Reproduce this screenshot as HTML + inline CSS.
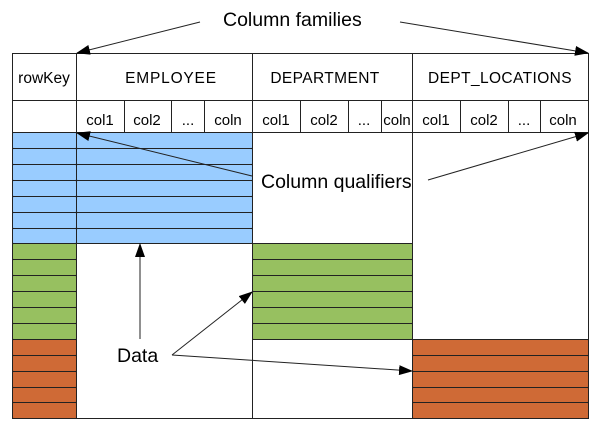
<!DOCTYPE html>
<html><head><meta charset="utf-8"><style>
html,body{margin:0;padding:0;background:#fff;width:602px;height:432px;overflow:hidden}
svg{display:block}
text{font-family:"Liberation Sans",Arial,sans-serif;fill:#000}
</style></head><body>
<svg width="602" height="432" viewBox="0 0 602 432" xmlns="http://www.w3.org/2000/svg">
<defs>
<marker id="ah" markerWidth="14" markerHeight="10" refX="13" refY="5" orient="auto" markerUnits="userSpaceOnUse">
<path d="M0,0 L14,5 L0,10 z" fill="#000"/></marker>
</defs>
<g stroke="#222" stroke-width="1">
<g fill="#99ccff">
<rect x="12.5" y="132.5" width="64" height="16" rx="1"/><rect x="12.5" y="148.5" width="64" height="16" rx="1"/><rect x="12.5" y="164.5" width="64" height="16" rx="1"/><rect x="12.5" y="180.5" width="64" height="16" rx="1"/><rect x="12.5" y="196.5" width="64" height="16" rx="1"/><rect x="12.5" y="212.5" width="64" height="16" rx="1"/><rect x="12.5" y="228.5" width="64" height="15" rx="1"/>
<rect x="76.5" y="132.5" width="176" height="16" rx="1"/><rect x="76.5" y="148.5" width="176" height="16" rx="1"/><rect x="76.5" y="164.5" width="176" height="16" rx="1"/><rect x="76.5" y="180.5" width="176" height="16" rx="1"/><rect x="76.5" y="196.5" width="176" height="16" rx="1"/><rect x="76.5" y="212.5" width="176" height="16" rx="1"/><rect x="76.5" y="228.5" width="176" height="15" rx="1"/>
</g>
<g fill="#97c060">
<rect x="12.5" y="243.5" width="64" height="16" rx="1"/><rect x="12.5" y="259.5" width="64" height="16" rx="1"/><rect x="12.5" y="275.5" width="64" height="16" rx="1"/><rect x="12.5" y="291.5" width="64" height="16" rx="1"/><rect x="12.5" y="307.5" width="64" height="16" rx="1"/><rect x="12.5" y="323.5" width="64" height="16" rx="1"/>
<rect x="252.5" y="243.5" width="160" height="16" rx="1"/><rect x="252.5" y="259.5" width="160" height="16" rx="1"/><rect x="252.5" y="275.5" width="160" height="16" rx="1"/><rect x="252.5" y="291.5" width="160" height="16" rx="1"/><rect x="252.5" y="307.5" width="160" height="16" rx="1"/><rect x="252.5" y="323.5" width="160" height="16" rx="1"/>
</g>
<g fill="#cf6a36">
<rect x="12.5" y="339.5" width="64" height="16" rx="1"/><rect x="12.5" y="355.5" width="64" height="16" rx="1"/><rect x="12.5" y="371.5" width="64" height="16" rx="1"/><rect x="12.5" y="387.5" width="64" height="15" rx="1"/><rect x="12.5" y="402.5" width="64" height="16" rx="1"/>
<rect x="412.5" y="339.5" width="176" height="16" rx="1"/><rect x="412.5" y="355.5" width="176" height="16" rx="1"/><rect x="412.5" y="371.5" width="176" height="16" rx="1"/><rect x="412.5" y="387.5" width="176" height="15" rx="1"/><rect x="412.5" y="402.5" width="176" height="16" rx="1"/>
</g>
</g>
<g stroke="#222" stroke-width="1" fill="none">
<rect x="12.5" y="53.5" width="576" height="365"/>
<line x1="12" y1="100.5" x2="588" y2="100.5"/>
<line x1="12" y1="132.5" x2="588" y2="132.5"/>
<line x1="76.5" y1="53" x2="76.5" y2="418"/>
<line x1="252.5" y1="53" x2="252.5" y2="418"/>
<line x1="412.5" y1="53" x2="412.5" y2="418"/>
<line x1="124.5" y1="100" x2="124.5" y2="132"/><line x1="171.5" y1="100" x2="171.5" y2="132"/><line x1="204.5" y1="100" x2="204.5" y2="132"/>
<line x1="300.5" y1="100" x2="300.5" y2="132"/><line x1="348.5" y1="100" x2="348.5" y2="132"/><line x1="381.5" y1="100" x2="381.5" y2="132"/>
<line x1="460.5" y1="100" x2="460.5" y2="132"/><line x1="508.5" y1="100" x2="508.5" y2="132"/><line x1="540.5" y1="100" x2="540.5" y2="132"/>
</g>
<g font-size="15.5" text-anchor="middle">
<text x="44" y="83">rowKey</text>
<text x="171" y="83" letter-spacing="0.8">EMPLOYEE</text>
<text x="325" y="83" letter-spacing="0.4">DEPARTMENT</text>
<text x="500" y="83" letter-spacing="0.4">DEPT_LOCATIONS</text>
</g>
<g font-size="15" text-anchor="middle">
<text x="100" y="125">col1</text><text x="147" y="125">col2</text><text x="188" y="125">...</text><text x="228" y="125">coln</text>
<text x="276" y="125">col1</text><text x="324" y="125">col2</text><text x="364" y="125">...</text><text x="397" y="125">coln</text>
<text x="436" y="125">col1</text><text x="484" y="125">col2</text><text x="524" y="125">...</text><text x="563" y="125">coln</text>
</g>
<g font-size="19.5">
<text x="223" y="26">Column families</text>
<text x="261" y="188">Column qualifiers</text>
<text x="117" y="362">Data</text>
</g>
<g stroke="#222" stroke-width="1" fill="none" marker-end="url(#ah)">
<line x1="200" y1="22" x2="77" y2="53"/>
<line x1="400" y1="22" x2="588" y2="53"/>
<line x1="252" y1="176" x2="77" y2="133"/>
<line x1="428" y1="180" x2="588" y2="133"/>
<line x1="140" y1="339" x2="140" y2="244"/>
<line x1="172" y1="355" x2="252" y2="292"/>
<line x1="172" y1="355" x2="412" y2="371"/>
</g>
</svg>
</body></html>
